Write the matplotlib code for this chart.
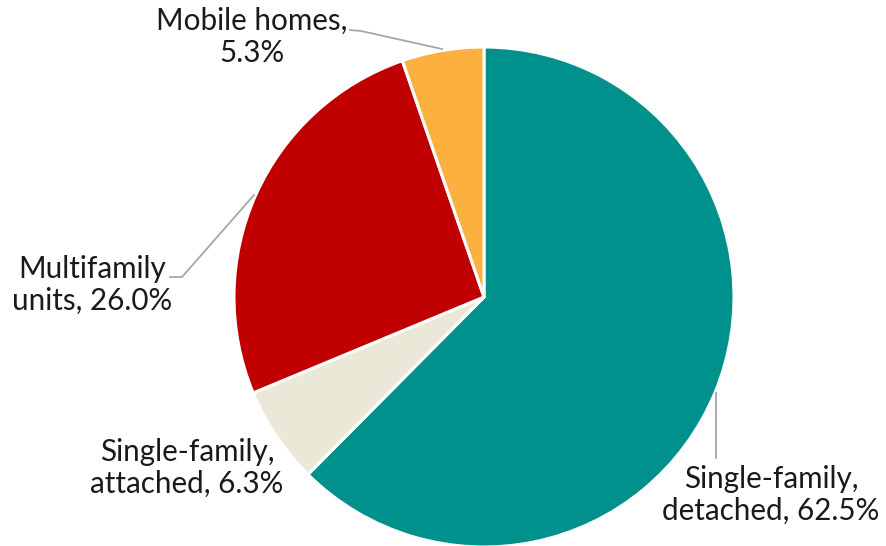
import matplotlib.pyplot as plt

# share of housing units by structure type
labels = ["Single-family,\ndetached, 62.5%", "Single-family,\nattached, 6.3%",
          "Multifamily\nunits, 26.0%", "Mobile homes,\n5.3%"]
shares = [62.5, 6.3, 26.0, 5.3]
colors = ["#00918D", "#EBE8D8", "#C00000", "#FBB040"]

plt.rcParams["font.family"] = ["Lato", "DejaVu Sans"]

W, H = 886, 546
fig = plt.figure(figsize=(W / 100, H / 100), dpi=100)
ax = fig.add_axes([0, 0, 1, 1])

cx, cy, r = 484, H - 297, 250
ax.pie(shares, colors=colors, startangle=90, counterclock=False,
       center=(cx, cy), radius=r, frame=True,
       wedgeprops=dict(edgecolor="white", linewidth=2.2))
ax.set_xlim(0, W)
ax.set_ylim(0, H)
ax.set_aspect("equal")
ax.axis("off")

# label positions (pixel space, y from top) and leader lines
label_pos = [(771, 495), (187, 468), (92, 285), (252, 37)]
leaders = [
    [(716, 393), (716, 458)],
    None,
    [(170, 277), (182, 277), (254, 195)],
    [(350, 30), (361, 31), (442, 49)],
]

for text, (lx, ly), ld in zip(labels, label_pos, leaders):
    ax.text(lx, H - ly, text, ha="center", va="center", fontsize=21.3,
            color="#1a1a1a", linespacing=1.17)
    if ld:
        xs = [p[0] for p in ld]
        ys = [H - p[1] for p in ld]
        ax.plot(xs, ys, color="#a6a6a6", lw=1.3)

fig.savefig("out.png", dpi=100)
